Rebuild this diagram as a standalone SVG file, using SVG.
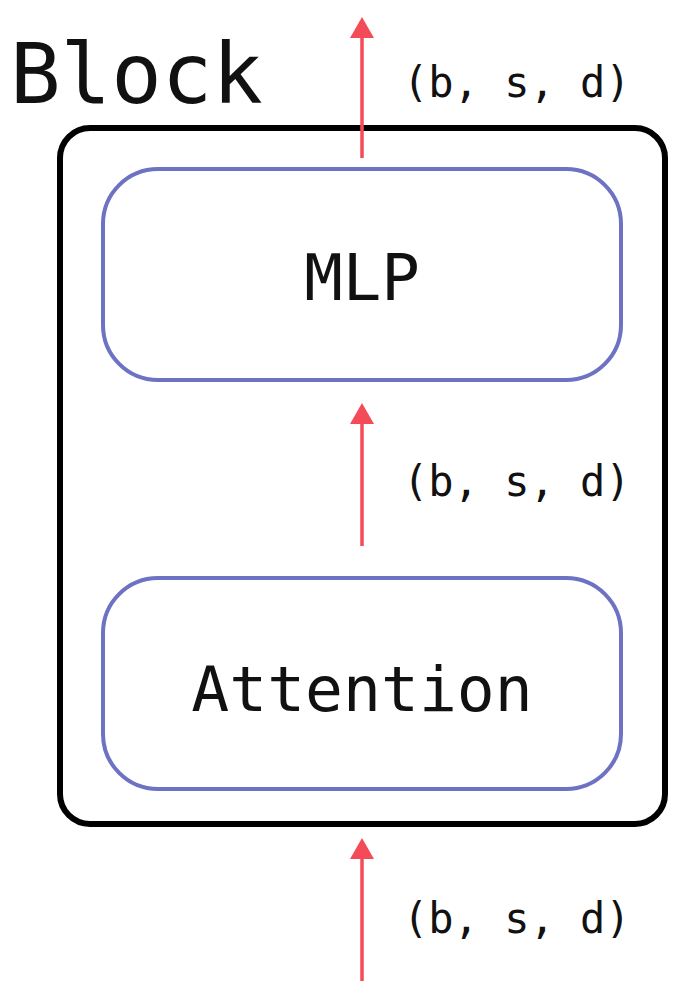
<svg xmlns="http://www.w3.org/2000/svg" width="684" height="998" viewBox="0 0 684 998">
<defs>
<style>
.lbl{font-family:"DejaVu Sans Mono","Liberation Mono",monospace;fill:#111;}
.node{fill:#fff;stroke:#6d72c3;stroke-width:4;}
.conn line{stroke:#f44b58;stroke-width:3.5;}
.conn polygon{fill:#f44b58;}
</style>
</defs>
<rect width="684" height="998" fill="#fff"/>
<g id="block">
<rect x="60" y="128" width="605" height="696" rx="30" fill="none" stroke="#000" stroke-width="6"/>
<text class="lbl" x="10" y="103" font-size="84">Block</text>
</g>
<g id="mlp">
<rect class="node" x="103" y="169" width="518" height="211" rx="55"/>
<text class="lbl" x="362" y="300" font-size="64" text-anchor="middle">MLP</text>
</g>
<g id="attention">
<rect class="node" x="103" y="578" width="518" height="211" rx="55"/>
<text class="lbl" x="362" y="711" font-size="63" text-anchor="middle">Attention</text>
</g>
<g id="connectors" class="conn">
<line x1="362" y1="158" x2="362" y2="36"/>
<polygon points="362,17 350,38 374,38"/>
<line x1="362" y1="546" x2="362" y2="422"/>
<polygon points="362,403 350,424 374,424"/>
<line x1="362" y1="981" x2="362" y2="857"/>
<polygon points="362,838 350,859 374,859"/>
</g>
<g id="labels">
<text class="lbl" x="403" y="97" font-size="42">(b, s, d)</text>
<text class="lbl" x="403" y="496" font-size="42">(b, s, d)</text>
<text class="lbl" x="403" y="933" font-size="42">(b, s, d)</text>
</g>
</svg>
